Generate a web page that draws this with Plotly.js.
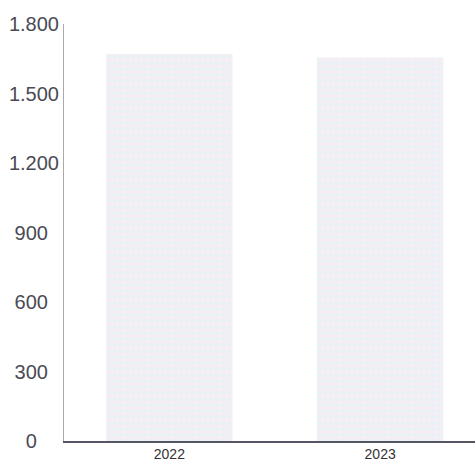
<!DOCTYPE html>
<html>
<head>
<meta charset="utf-8">
<script src="https://cdn.plot.ly/plotly-3.0.1.min.js"></script>
<style>html,body{margin:0;padding:0;background:#fff;}#chart{width:475px;height:465px;}</style>
</head>
<body>
<div id="chart"></div>
<script>
const years = ["2022", "2023"];
const values = [1670, 1655];
const yTickVals = [0, 300, 600, 900, 1200, 1500, 1800];
const yTickLabels = ["0", "300", "600", "900", "1.200", "1.500", "1.800"];

// centre the y tick labels (approximate) by padding on the right with no-break spaces
function textWidth(s, size) {
  let w = 0;
  for (const c of s) w += (c === '.' ? 0.278 : 0.556) * size;
  return w;
}
const yFont = 20;
const maxW = Math.max(...yTickLabels.map(s => textWidth(s, yFont)));
const paddedLabels = yTickLabels.map(s => {
  const n = Math.round(((maxW - textWidth(s, yFont)) / 2) / (0.278 * yFont));
  return s + '\u00A0'.repeat(n);
});

const trace = {
  type: 'bar',
  x: years,
  y: values,
  width: 0.6,
  marker: {
    color: '#f2eef4',
    line: {width: 0},
    pattern: {shape: '.', fgcolor: '#e6f3f4', bgcolor: '#f5eef5', size: 6, solidity: 0.35}
  },
  hoverinfo: 'x+y'
};

const layout = {
  width: 475,
  height: 465,
  margin: {l: 64, r: 0, t: 24, b: 24},
  paper_bgcolor: '#ffffff',
  plot_bgcolor: '#ffffff',
  separators: ',.',
  showlegend: false,
  bargap: 0.4,
  xaxis: {
    type: 'category',
    range: [-0.5, 1.45],
    showgrid: false,
    zeroline: false,
    showline: true,
    linecolor: '#555566',
    linewidth: 1.5,
    ticks: '',
    tickfont: {family: 'Liberation Sans, Arial, sans-serif', size: 14, color: '#333333'},
    fixedrange: true
  },
  yaxis: {
    range: [0, 1800],
    tickvals: yTickVals,
    ticktext: paddedLabels,
    showgrid: false,
    zeroline: false,
    showline: true,
    linecolor: '#aaaaaa',
    linewidth: 1,
    ticks: '',
    ticklabelstandoff: 0,
    tickfont: {family: 'Liberation Sans, Arial, sans-serif', size: yFont, color: '#4a4a55'},
    fixedrange: true
  }
};

Plotly.newPlot('chart', [trace], layout, {displayModeBar: false, staticPlot: true});
</script>
</body>
</html>
